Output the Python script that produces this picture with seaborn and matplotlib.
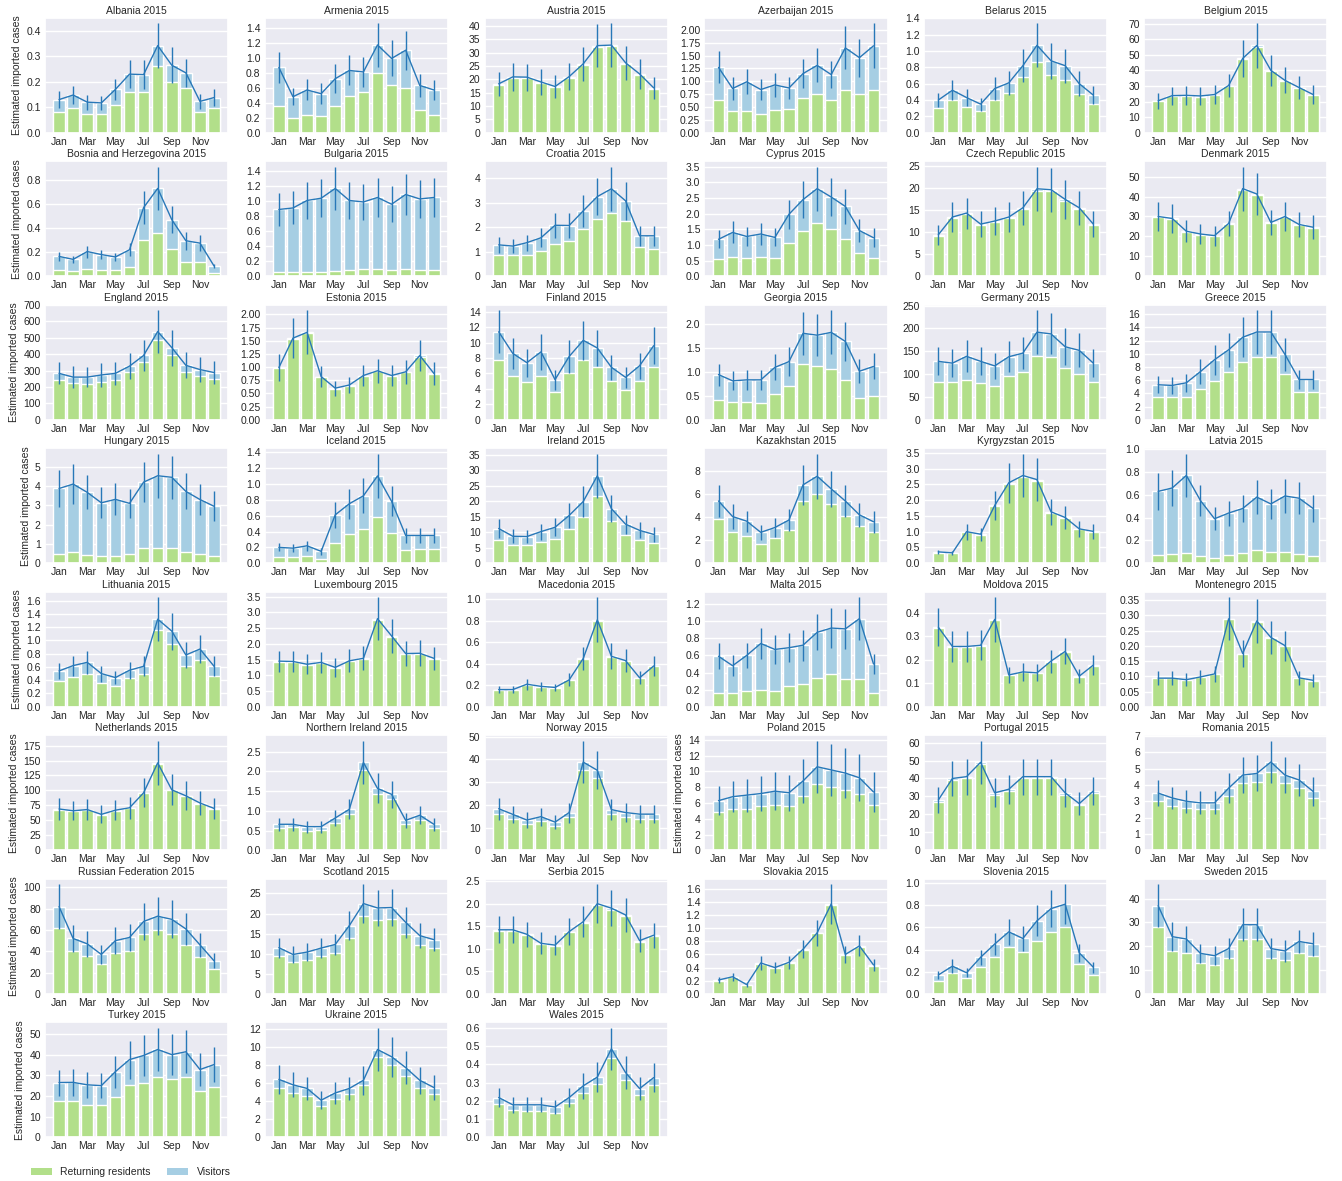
import numpy as np
import pandas as pd
import matplotlib
matplotlib.use("Agg")
import matplotlib.pyplot as plt
from matplotlib.patches import Patch
from matplotlib.ticker import MaxNLocator
import seaborn as sns

MONTHS = ["Jan", "Feb", "Mar", "Apr", "May", "Jun",
          "Jul", "Aug", "Sep", "Oct", "Nov", "Dec"]
TICK_POS = [0, 2, 4, 6, 8, 10]
TICK_LABELS = ["Jan", "Mar", "May", "Jul", "Sep", "Nov"]

# Monthly estimates per country: total imported cases (line and bar height),
# share from returning residents (green), and half-width of the interval.
albania = dict(name="Albania",
    total=[0.13, 0.148, 0.12, 0.117, 0.17, 0.23, 0.228, 0.342, 0.265, 0.235, 0.123, 0.138],
    residents=[0.083, 0.097, 0.075, 0.075, 0.11, 0.16, 0.16, 0.26, 0.20, 0.175, 0.083, 0.097],
    ci=[0.032, 0.037, 0.03, 0.028, 0.04, 0.055, 0.057, 0.088, 0.07, 0.055, 0.03, 0.035])
armenia = dict(name="Armenia",
    total=[0.87, 0.48, 0.57, 0.52, 0.72, 0.83, 0.81, 1.17, 0.99, 1.10, 0.63, 0.57],
    residents=[0.36, 0.20, 0.24, 0.22, 0.36, 0.49, 0.54, 0.79, 0.63, 0.59, 0.30, 0.23],
    ci=[0.21, 0.11, 0.14, 0.14, 0.19, 0.20, 0.20, 0.29, 0.24, 0.26, 0.15, 0.13])
austria = dict(name="Austria",
    total=[18.3, 20.9, 20.8, 19.0, 17.3, 21.0, 25.8, 32.6, 32.8, 26.2, 22.0, 16.8],
    residents=[17.9, 20.5, 20.4, 18.6, 17.0, 20.6, 25.4, 32.1, 32.3, 25.8, 21.6, 16.5],
    ci=[4.5, 5.3, 5.1, 4.8, 4.2, 5.0, 6.3, 8.0, 8.2, 6.4, 5.6, 4.2])
azerbaijan = dict(name="Azerbaijan",
    total=[1.27, 0.86, 0.99, 0.84, 0.93, 0.87, 1.15, 1.31, 1.13, 1.65, 1.46, 1.69],
    residents=[0.64, 0.43, 0.43, 0.37, 0.44, 0.47, 0.67, 0.75, 0.64, 0.83, 0.75, 0.83],
    ci=[0.31, 0.22, 0.24, 0.20, 0.24, 0.21, 0.28, 0.33, 0.27, 0.42, 0.37, 0.44])
belarus = dict(name="Belarus",
    total=[0.40, 0.52, 0.43, 0.35, 0.54, 0.61, 0.82, 1.07, 0.88, 0.82, 0.60, 0.46],
    residents=[0.30, 0.40, 0.31, 0.26, 0.40, 0.48, 0.68, 0.87, 0.70, 0.65, 0.47, 0.35],
    ci=[0.09, 0.12, 0.10, 0.08, 0.14, 0.15, 0.20, 0.27, 0.22, 0.21, 0.15, 0.11])
belgium = dict(name="Belgium",
    total=[20.5, 23.8, 24.0, 23.6, 24.5, 30.3, 47.7, 56.0, 40.0, 33.6, 29.0, 24.5],
    residents=[20.2, 23.4, 23.6, 23.2, 24.1, 29.8, 47.0, 55.2, 39.4, 33.1, 28.6, 24.1],
    ci=[5.3, 5.8, 6.0, 5.8, 5.9, 7.6, 12.1, 14.3, 10.2, 8.4, 7.2, 6.1])
bosnia = dict(name="Bosnia and Herzegovina",
    total=[0.165, 0.14, 0.205, 0.18, 0.16, 0.22, 0.57, 0.73, 0.47, 0.295, 0.275, 0.085],
    residents=[0.055, 0.045, 0.06, 0.055, 0.05, 0.075, 0.305, 0.36, 0.225, 0.115, 0.115, 0.03],
    ci=[0.035, 0.03, 0.05, 0.04, 0.035, 0.055, 0.14, 0.18, 0.11, 0.075, 0.065, 0.015])
bulgaria = dict(name="Bulgaria",
    total=[0.89, 0.91, 1.01, 1.04, 1.17, 1.01, 0.99, 1.05, 0.96, 1.09, 1.03, 1.05],
    residents=[0.055, 0.055, 0.055, 0.055, 0.07, 0.08, 0.095, 0.095, 0.08, 0.095, 0.08, 0.08],
    ci=[0.22, 0.22, 0.25, 0.25, 0.29, 0.25, 0.24, 0.26, 0.24, 0.27, 0.25, 0.26])
croatia = dict(name="Croatia",
    total=[1.28, 1.23, 1.37, 1.57, 2.08, 2.07, 2.67, 3.25, 3.57, 3.08, 1.65, 1.65],
    residents=[0.85, 0.85, 0.88, 1.02, 1.33, 1.42, 1.93, 2.35, 2.60, 2.27, 1.18, 1.12],
    ci=[0.32, 0.30, 0.33, 0.38, 0.52, 0.51, 0.66, 0.77, 0.90, 0.78, 0.41, 0.41])
cyprus = dict(name="Cyprus",
    total=[1.18, 1.40, 1.27, 1.35, 1.24, 1.98, 2.45, 2.80, 2.53, 2.23, 1.46, 1.23],
    residents=[0.55, 0.63, 0.57, 0.60, 0.57, 1.05, 1.44, 1.70, 1.50, 1.20, 0.75, 0.57],
    ci=[0.29, 0.35, 0.31, 0.35, 0.29, 0.47, 0.60, 0.70, 0.62, 0.55, 0.36, 0.30])
czech = dict(name="Czech Republic",
    total=[9.4, 13.4, 14.3, 11.8, 12.5, 13.4, 15.5, 19.8, 19.6, 17.4, 15.5, 11.8],
    residents=[9.2, 13.1, 14.0, 11.6, 12.3, 13.1, 15.2, 19.4, 19.2, 17.1, 15.2, 11.6],
    ci=[2.3, 3.4, 3.5, 2.9, 3.1, 3.3, 3.9, 5.0, 5.0, 4.4, 3.8, 2.9])
denmark = dict(name="Denmark",
    total=[30.0, 29.0, 22.6, 21.2, 20.4, 26.5, 44.0, 41.3, 27.0, 30.0, 26.0, 24.6],
    residents=[29.5, 28.5, 22.2, 20.8, 20.0, 26.0, 43.2, 40.6, 26.5, 29.5, 25.5, 24.1],
    ci=[7.5, 7.1, 5.6, 5.2, 5.0, 6.5, 11.0, 10.5, 6.5, 7.5, 6.5, 6.0])
england = dict(name="England",
    total=[283, 260, 260, 273, 283, 327, 392, 538, 440, 332, 306, 288],
    residents=[242, 222, 218, 232, 242, 290, 352, 485, 393, 292, 268, 248],
    ci=[67, 65, 62, 72, 72, 78, 96, 130, 110, 80, 74, 69])
estonia = dict(name="Estonia",
    total=[0.99, 1.55, 1.66, 0.82, 0.60, 0.66, 0.84, 0.93, 0.84, 0.91, 1.22, 0.88],
    residents=[0.98, 1.53, 1.64, 0.81, 0.59, 0.65, 0.83, 0.92, 0.83, 0.90, 1.20, 0.87],
    ci=[0.25, 0.38, 0.42, 0.20, 0.14, 0.15, 0.20, 0.23, 0.20, 0.23, 0.30, 0.22])
finland = dict(name="Finland",
    total=[11.4, 8.6, 7.4, 8.8, 5.2, 8.2, 10.3, 9.3, 6.8, 5.5, 7.0, 9.6],
    residents=[7.8, 5.7, 4.9, 5.7, 3.6, 6.0, 7.7, 6.8, 5.0, 3.9, 5.0, 6.9],
    ci=[2.8, 2.0, 1.8, 2.3, 1.3, 2.1, 2.5, 2.3, 1.6, 1.4, 1.7, 2.4])
georgia = dict(name="Georgia",
    total=[0.94, 0.81, 0.83, 0.83, 1.09, 1.21, 1.80, 1.76, 1.82, 1.63, 1.01, 1.11],
    residents=[0.41, 0.36, 0.36, 0.34, 0.54, 0.71, 1.16, 1.12, 1.05, 0.83, 0.45, 0.49],
    ci=[0.23, 0.20, 0.21, 0.21, 0.27, 0.30, 0.45, 0.44, 0.46, 0.40, 0.25, 0.27])
germany = dict(name="Germany",
    total=[128, 124, 139, 128, 118, 138, 146, 192, 188, 160, 152, 124],
    residents=[82, 82, 88, 80, 75, 96, 104, 140, 137, 113, 101, 82],
    ci=[31, 30, 35, 31, 29, 34, 35, 48, 45, 41, 37, 30])
greece = dict(name="Greece",
    total=[5.3, 5.2, 5.6, 7.3, 9.1, 10.6, 12.5, 13.3, 13.3, 9.9, 6.1, 6.1],
    residents=[3.4, 3.4, 3.4, 4.6, 5.9, 7.3, 8.8, 9.5, 9.5, 6.9, 4.2, 4.2],
    ci=[1.3, 1.3, 1.4, 1.9, 2.3, 2.6, 3.0, 3.3, 3.3, 2.5, 1.5, 1.5])
hungary = dict(name="Hungary",
    total=[3.87, 4.10, 3.67, 3.13, 3.31, 3.10, 4.20, 4.53, 4.45, 3.72, 3.30, 2.95],
    residents=[0.50, 0.57, 0.45, 0.40, 0.40, 0.47, 0.80, 0.80, 0.77, 0.60, 0.50, 0.40],
    ci=[0.95, 1.03, 0.88, 0.80, 0.82, 0.75, 1.02, 1.14, 1.10, 0.93, 0.82, 0.77])
iceland = dict(name="Iceland",
    total=[0.20, 0.19, 0.22, 0.15, 0.61, 0.75, 0.85, 1.10, 0.78, 0.35, 0.35, 0.35],
    residents=[0.08, 0.08, 0.09, 0.05, 0.25, 0.37, 0.43, 0.58, 0.38, 0.17, 0.18, 0.18],
    ci=[0.05, 0.05, 0.06, 0.04, 0.16, 0.19, 0.22, 0.28, 0.19, 0.09, 0.09, 0.09])
ireland = dict(name="Ireland",
    total=[11.2, 8.7, 8.6, 10.2, 11.6, 15.4, 19.9, 28.2, 17.6, 12.6, 10.6, 9.3],
    residents=[7.5, 5.8, 5.8, 6.8, 7.7, 11.0, 14.8, 21.8, 13.6, 9.0, 7.5, 6.4],
    ci=[3.0, 2.3, 2.2, 2.6, 2.9, 3.9, 5.1, 7.1, 4.3, 3.1, 2.6, 2.3])
kazakhstan = dict(name="Kazakhstan",
    total=[5.4, 4.05, 3.65, 2.68, 3.1, 3.75, 6.8, 7.55, 6.45, 5.4, 4.2, 3.6],
    residents=[3.8, 2.7, 2.4, 1.7, 2.2, 2.85, 5.4, 6.0, 5.15, 4.1, 3.2, 2.7],
    ci=[1.4, 1.05, 0.9, 0.67, 0.8, 0.95, 1.75, 1.95, 1.55, 1.4, 1.05, 0.95])
kyrgyzstan = dict(name="Kyrgyzstan",
    total=[0.36, 0.33, 1.00, 0.92, 1.83, 2.55, 2.78, 2.65, 1.63, 1.45, 1.09, 1.01],
    residents=[0.34, 0.31, 0.98, 0.90, 1.80, 2.52, 2.74, 2.61, 1.60, 1.42, 1.07, 0.99],
    ci=[0.07, 0.07, 0.25, 0.20, 0.47, 0.63, 0.69, 0.67, 0.41, 0.35, 0.26, 0.24])
latvia = dict(name="Latvia",
    total=[0.63, 0.66, 0.77, 0.55, 0.39, 0.44, 0.48, 0.58, 0.52, 0.59, 0.57, 0.48],
    residents=[0.07, 0.08, 0.09, 0.065, 0.045, 0.07, 0.09, 0.12, 0.10, 0.10, 0.08, 0.065],
    ci=[0.16, 0.16, 0.19, 0.14, 0.10, 0.11, 0.12, 0.15, 0.13, 0.15, 0.14, 0.12])
lithuania = dict(name="Lithuania",
    total=[0.54, 0.62, 0.67, 0.50, 0.44, 0.55, 0.61, 1.32, 1.14, 0.78, 0.87, 0.61],
    residents=[0.39, 0.45, 0.50, 0.36, 0.32, 0.43, 0.50, 1.16, 0.95, 0.62, 0.70, 0.47],
    ci=[0.12, 0.15, 0.17, 0.12, 0.10, 0.13, 0.15, 0.33, 0.28, 0.19, 0.21, 0.15])
luxembourg = dict(name="Luxembourg",
    total=[1.45, 1.44, 1.35, 1.41, 1.25, 1.46, 1.54, 2.80, 2.25, 1.69, 1.70, 1.54],
    residents=[1.43, 1.42, 1.33, 1.39, 1.23, 1.44, 1.52, 2.76, 2.22, 1.67, 1.68, 1.52],
    ci=[0.33, 0.34, 0.32, 0.34, 0.29, 0.36, 0.38, 0.68, 0.55, 0.41, 0.42, 0.36])
macedonia = dict(name="Macedonia",
    total=[0.16, 0.16, 0.21, 0.19, 0.18, 0.25, 0.45, 0.81, 0.47, 0.43, 0.27, 0.38],
    residents=[0.155, 0.155, 0.205, 0.185, 0.175, 0.245, 0.445, 0.80, 0.465, 0.425, 0.265, 0.375],
    ci=[0.035, 0.035, 0.05, 0.04, 0.035, 0.06, 0.11, 0.21, 0.12, 0.11, 0.06, 0.09])
malta = dict(name="Malta",
    total=[0.59, 0.48, 0.60, 0.74, 0.67, 0.69, 0.72, 0.87, 0.92, 0.91, 1.03, 0.50],
    residents=[0.16, 0.16, 0.18, 0.20, 0.19, 0.24, 0.27, 0.34, 0.38, 0.32, 0.33, 0.16],
    ci=[0.15, 0.12, 0.15, 0.18, 0.17, 0.17, 0.18, 0.21, 0.23, 0.23, 0.25, 0.12])
moldova = dict(name="Moldova",
    total=[0.338, 0.256, 0.256, 0.261, 0.371, 0.135, 0.148, 0.144, 0.194, 0.235, 0.13, 0.177],
    residents=[0.336, 0.254, 0.254, 0.259, 0.369, 0.133, 0.146, 0.142, 0.192, 0.233, 0.128, 0.175],
    ci=[0.082, 0.064, 0.064, 0.064, 0.094, 0.033, 0.037, 0.036, 0.049, 0.055, 0.03, 0.043])
montenegro = dict(name="Montenegro",
    total=[0.094, 0.094, 0.089, 0.098, 0.108, 0.289, 0.175, 0.282, 0.228, 0.201, 0.095, 0.087],
    residents=[0.093, 0.093, 0.088, 0.097, 0.107, 0.287, 0.174, 0.280, 0.226, 0.199, 0.094, 0.086],
    ci=[0.023, 0.023, 0.022, 0.024, 0.027, 0.071, 0.043, 0.071, 0.055, 0.049, 0.024, 0.021])
netherlands = dict(name="Netherlands",
    total=[69, 66, 68, 60, 67, 71, 96, 146, 101, 91, 79, 70],
    residents=[68, 65, 67, 59, 66, 70, 95, 144, 100, 90, 78, 69],
    ci=[18, 16, 17, 15, 17, 18, 24, 37, 26, 24, 20, 18])
northern_ireland = dict(name="Northern Ireland",
    total=[0.66, 0.66, 0.60, 0.60, 0.82, 1.04, 2.23, 1.57, 1.42, 0.76, 0.89, 0.66],
    residents=[0.57, 0.59, 0.50, 0.51, 0.70, 0.93, 2.05, 1.43, 1.30, 0.66, 0.78, 0.57],
    ci=[0.16, 0.17, 0.15, 0.15, 0.21, 0.25, 0.55, 0.38, 0.34, 0.19, 0.23, 0.17])
norway = dict(name="Norway",
    total=[18.3, 15.8, 13.3, 14.8, 12.4, 16.6, 38.8, 35.2, 17.9, 16.6, 15.9, 15.9],
    residents=[15.8, 13.6, 11.6, 12.8, 10.6, 14.6, 35.2, 32.0, 15.8, 14.8, 13.6, 13.6],
    ci=[4.9, 3.6, 3.5, 4.0, 3.2, 4.4, 9.4, 8.4, 4.5, 4.0, 4.0, 4.0])
poland = dict(name="Poland",
    total=[6.3, 6.8, 7.0, 7.2, 7.5, 7.3, 8.8, 10.6, 10.2, 9.8, 9.2, 7.4],
    residents=[4.8, 5.2, 5.3, 5.6, 5.8, 5.6, 6.9, 8.4, 8.0, 7.7, 7.2, 5.7],
    ci=[1.8, 2.0, 2.1, 2.2, 2.4, 2.3, 2.8, 3.3, 3.3, 3.2, 3.0, 2.5])
portugal = dict(name="Portugal",
    total=[28, 40, 41, 49, 32, 34, 41, 41, 41, 32, 26, 33],
    residents=[27, 39, 40, 48, 31, 33, 40, 40, 40, 31, 25, 32],
    ci=[7, 10, 10, 12, 8, 8, 10, 10, 10, 8, 6.5, 8])
romania = dict(name="Romania",
    total=[3.5, 3.2, 3.0, 2.9, 2.9, 3.8, 4.6, 4.7, 5.4, 4.6, 4.3, 3.6],
    residents=[3.0, 2.7, 2.6, 2.5, 2.5, 3.3, 4.1, 4.2, 4.8, 4.1, 3.8, 3.2],
    ci=[0.8, 0.7, 0.7, 0.7, 0.7, 0.9, 1.1, 1.1, 1.3, 1.1, 1.0, 0.9])
russia = dict(name="Russian Federation",
    total=[82, 52, 47, 37, 50, 53, 68, 73, 70, 61, 46, 31],
    residents=[62, 40, 36, 28, 38, 40, 56, 60, 56, 46, 35, 23],
    ci=[21, 13, 12, 9, 13, 13, 17, 18, 18, 15, 11, 7])
scotland = dict(name="Scotland",
    total=[11.5, 9.8, 10.4, 11.4, 12.3, 17.0, 22.5, 21.4, 21.5, 17.8, 14.5, 13.5],
    residents=[9.3, 8.0, 8.5, 9.3, 10.2, 14.0, 19.5, 18.5, 18.6, 15.0, 12.2, 11.5],
    ci=[2.5, 2.1, 2.2, 2.5, 2.7, 3.6, 4.8, 4.5, 4.6, 3.8, 3.1, 2.9])
serbia = dict(name="Serbia",
    total=[1.42, 1.42, 1.32, 1.12, 1.08, 1.38, 1.60, 2.00, 1.90, 1.75, 1.18, 1.30],
    residents=[1.40, 1.40, 1.30, 1.10, 1.06, 1.36, 1.58, 1.97, 1.87, 1.72, 1.16, 1.28],
    ci=[0.30, 0.30, 0.28, 0.24, 0.23, 0.30, 0.34, 0.43, 0.40, 0.37, 0.25, 0.28])
slovakia = dict(name="Slovakia",
    total=[0.21, 0.26, 0.14, 0.47, 0.40, 0.48, 0.68, 0.93, 1.37, 0.60, 0.73, 0.44],
    residents=[0.20, 0.25, 0.13, 0.46, 0.39, 0.47, 0.67, 0.92, 1.35, 0.59, 0.72, 0.43],
    ci=[0.05, 0.06, 0.03, 0.10, 0.09, 0.10, 0.14, 0.20, 0.30, 0.13, 0.16, 0.09])
slovenia = dict(name="Slovenia",
    total=[0.17, 0.25, 0.19, 0.33, 0.45, 0.56, 0.50, 0.66, 0.77, 0.81, 0.37, 0.24],
    residents=[0.12, 0.19, 0.14, 0.24, 0.33, 0.42, 0.38, 0.48, 0.56, 0.60, 0.27, 0.17],
    ci=[0.04, 0.06, 0.04, 0.07, 0.10, 0.12, 0.11, 0.14, 0.17, 0.18, 0.08, 0.05])
sweden = dict(name="Sweden",
    total=[37, 24, 23, 17, 16, 19, 29, 29, 19, 18, 22, 21],
    residents=[28, 18, 17, 13, 12, 15, 23, 23, 15, 14, 17, 16],
    ci=[9, 6, 5.5, 4, 4, 4.5, 7, 7, 4.5, 4.5, 5, 5])
turkey = dict(name="Turkey",
    total=[26.5, 26.6, 25.4, 25.0, 31.8, 37.6, 39.6, 42.5, 40.0, 41.4, 32.8, 35.2],
    residents=[17.8, 17.4, 15.8, 15.6, 19.6, 25.2, 26.5, 29.2, 28.1, 29.0, 22.5, 24.5],
    ci=[6.3, 6.6, 6.2, 6.0, 7.7, 9.2, 9.7, 10.5, 10.0, 10.4, 8.2, 8.4])
ukraine = dict(name="Ukraine",
    total=[6.4, 5.8, 5.4, 4.1, 4.9, 5.4, 6.3, 9.7, 8.9, 7.7, 6.3, 5.5],
    residents=[5.5, 4.9, 4.6, 3.5, 4.2, 4.8, 5.8, 8.9, 8.0, 6.8, 5.5, 4.8],
    ci=[1.6, 1.4, 1.3, 1.0, 1.2, 1.3, 1.6, 2.4, 2.2, 1.8, 1.5, 1.4])
wales = dict(name="Wales",
    total=[0.218, 0.178, 0.178, 0.178, 0.166, 0.218, 0.282, 0.33, 0.485, 0.355, 0.267, 0.327],
    residents=[0.185, 0.15, 0.145, 0.145, 0.135, 0.19, 0.245, 0.29, 0.435, 0.315, 0.233, 0.285],
    ci=[0.054, 0.044, 0.042, 0.042, 0.039, 0.05, 0.07, 0.08, 0.115, 0.088, 0.063, 0.081])

COUNTRIES = [albania, armenia, austria, azerbaijan, belarus, belgium,
             bosnia, bulgaria, croatia, cyprus, czech, denmark,
             england, estonia, finland, georgia, germany, greece,
             hungary, iceland, ireland, kazakhstan, kyrgyzstan, latvia,
             lithuania, luxembourg, macedonia, malta, moldova, montenegro,
             netherlands, northern_ireland, norway, poland, portugal, romania,
             russia, scotland, serbia, slovakia, slovenia, sweden,
             turkey, ukraine, wales]
YLABEL_PANELS = {"Poland"}

GREEN = "#b2df8a"
BLUE = "#a6cee3"
LINE = "#2878b8"
FS = 7.5

sns.set_theme(style="darkgrid")
plt.rcParams["font.family"] = ["Liberation Sans", "DejaVu Sans"]

fig, axes = plt.subplots(8, 6, figsize=(13.42, 11.81), dpi=100)
fig.subplots_adjust(left=0.0335, right=0.989, top=0.985, bottom=0.037,
                    wspace=0.2, hspace=0.248)

for i, ax in enumerate(axes.flat):
    if i >= len(COUNTRIES):
        ax.remove()
        continue
    c = COUNTRIES[i]
    df = pd.DataFrame({"month": MONTHS, "total": c["total"],
                       "residents": c["residents"], "ci": c["ci"]})
    sns.barplot(data=df, x="month", y="total", order=MONTHS, color=BLUE,
                saturation=1, width=0.82, errorbar=None, ax=ax)
    sns.barplot(data=df, x="month", y="residents", order=MONTHS, color=GREEN,
                saturation=1, width=0.82, errorbar=None, ax=ax)
    ax.errorbar(np.arange(12), df["total"], yerr=df["ci"], color=LINE,
                lw=1.0, elinewidth=1.0, capsize=0, zorder=5)
    ax.set_xlim(-1.0, 12.0)
    ax.set_xticks(TICK_POS)
    ax.set_xticklabels(TICK_LABELS)
    ax.yaxis.set_major_locator(MaxNLocator(nbins=9, steps=[1, 2, 2.5, 5, 10]))
    ax.autoscale(axis="y")
    ax.set_ylim(bottom=0)
    ax.tick_params(labelsize=FS, length=0, pad=3)
    ax.set_xlabel("")
    if i % 6 == 0 or c["name"] in YLABEL_PANELS:
        ax.set_ylabel("Estimated imported cases", fontsize=FS, labelpad=3)
    else:
        ax.set_ylabel("")
    ax.set_title(f"{c['name']} 2015", fontsize=FS, pad=3)

handles = [Patch(facecolor=GREEN, edgecolor="none"),
           Patch(facecolor=BLUE, edgecolor="none")]
fig.legend(handles, ["Returning residents", "Visitors"], loc="lower left",
           bbox_to_anchor=(0.02, 0.0), borderaxespad=0, ncol=2,
           columnspacing=1.6, frameon=False, fontsize=FS)

fig.savefig("out.png", dpi=100)
